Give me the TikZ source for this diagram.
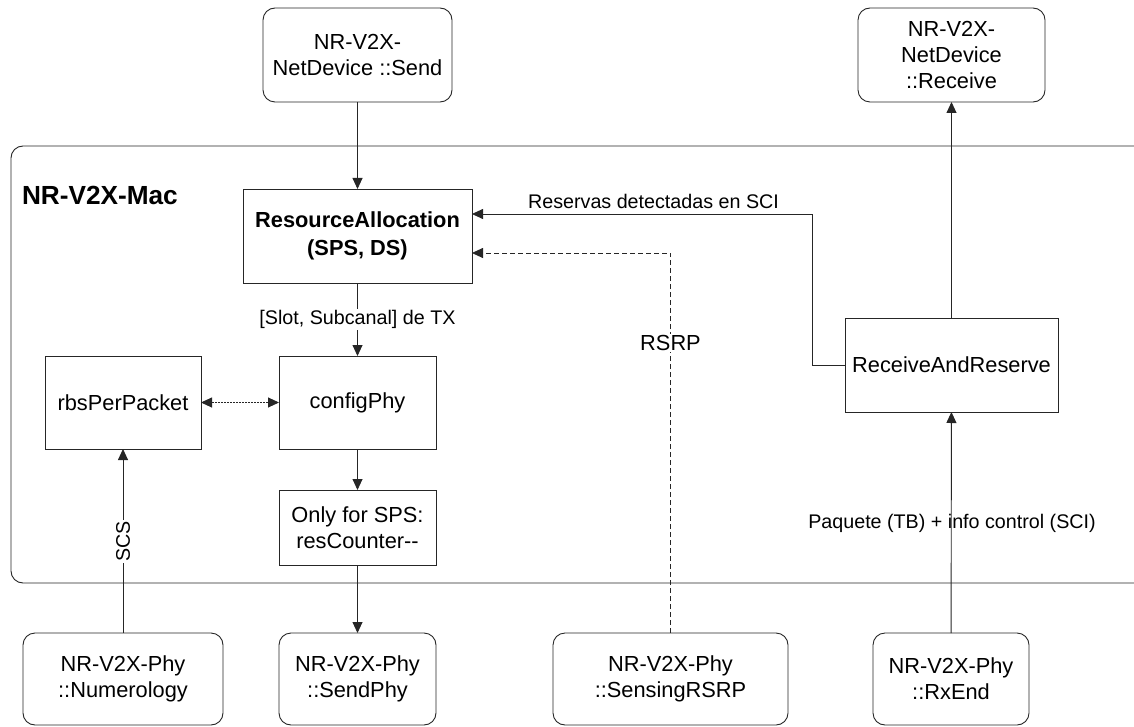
\documentclass[tikz,border=0pt]{standalone}
\usepackage{fontspec}
\setmainfont{Liberation Sans}
\usetikzlibrary{arrows.meta}

\begin{document}
\begin{tikzpicture}[x=1pt,y=-1pt,
  every node/.style={inner sep=0pt,outer sep=0pt},
  boxtext/.style={font=\fontsize{21.8}{26}\selectfont,align=center},
  lbltext/.style={font=\fontsize{19.7}{24}\selectfont},
  block/.style={draw=black!85,line width=0.9pt,boxtext},
  roundblock/.style={block,rounded corners=12pt},
  conn/.style={draw=black!85,line width=0.9pt},
  tip/.tip={Triangle[length=11pt,width=10pt]},
  arr/.style={conn,-tip},
  dotline/.style={dash pattern=on 2pt off 1pt},
  dashline/.style={dash pattern=on 5pt off 3pt},
  lblbg/.style={lbltext,fill=white,inner sep=1.5pt}
]
\useasboundingbox (0,0) rectangle (1134,727);

% MAC container (open on the right side)
\draw[conn,rounded corners=12pt] (1140,146) -- (11,146) -- (11,583) -- (1140,583);
\node[anchor=west,font=\fontsize{26.2}{30}\selectfont\bfseries] (mac) at (22,195) {NR-V2X-Mac};

% upper layer (NetDevice)
\node[roundblock,minimum width=189pt,minimum height=94pt] (send) at (357.5,55) {NR-V2X-\\NetDevice ::Send};
\node[roundblock,minimum width=187pt,minimum height=94pt] (recv) at (951.5,55) {NR-V2X-\\NetDevice\\::Receive};

% MAC blocks
\node[block,minimum width=229pt,minimum height=94pt,font=\fontsize{21.8}{28}\selectfont\bfseries] (ra) at (357.5,236) {ResourceAllocation\\(SPS, DS)};
\node[block,minimum width=157pt,minimum height=93pt] (cfg) at (357.5,402.5) {configPhy};
\node[block,minimum width=156pt,minimum height=93pt] (rbs) at (123,402.5) {rbsPerPacket};
\node[block,minimum width=157pt,minimum height=75pt] (cnt) at (357.5,527.5) {Only for SPS:\\resCounter-\kern0pt-};
\node[block,minimum width=213pt,minimum height=94pt] (rar) at (951.5,365) {ReceiveAndReserve};

% lower layer (Phy)
\node[roundblock,minimum width=200pt,minimum height=92pt] (num) at (123,679) {NR-V2X-Phy\\::Numerology};
\node[roundblock,minimum width=157pt,minimum height=92pt] (sphy) at (357.5,679) {NR-V2X-Phy\\::SendPhy};
\node[roundblock,minimum width=235pt,minimum height=92pt] (sens) at (670.5,679) {NR-V2X-Phy\\::SensingRSRP};
\node[roundblock,minimum width=156pt,minimum height=92pt] (rxe) at (951,679) {NR-V2X-Phy\\::RxEnd};

% bend points
\coordinate (rsv) at (812,214);
\coordinate (rsrp) at (670.5,253);

% connectors
\draw[arr] (send) -- (ra);
\draw[arr] (ra) -- node[lblbg] (lslot) {[Slot, Subcanal] de TX} (cfg);
\draw[conn,dotline,tip-tip] (rbs) -- (cfg);
\draw[arr] (cfg) -- (cnt);
\draw[arr] (cnt) -- (sphy);
\draw[arr] (num) -- node[lblbg,rotate=90,pos=0.497] (lscs) {SCS} (rbs);
\draw[arr,dashline] (sens.north) -- (rsrp) -- (ra.east |- rsrp);
\node[lblbg,font=\fontsize{21.8}{26}\selectfont] (lrsrp) at (670.5,343) {RSRP};
\draw[arr] (rxe) -- (rar);
\node[lbltext] (lpaq) at (952,523) {Paquete (TB) + info control (SCI)};
\draw[arr] (rar.north) -- (recv.south);
\draw[arr] (rar.west) -| (rsv) -- (ra.east |- rsv);
\node[lbltext] (lrsv) at (653.5,201) {Reservas detectadas en SCI};
\end{tikzpicture}
\end{document}
